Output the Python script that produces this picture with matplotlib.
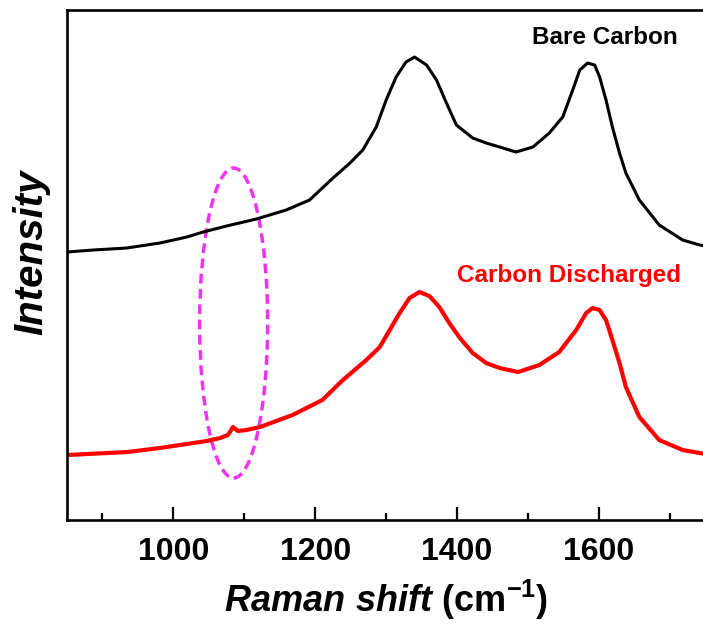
import matplotlib
matplotlib.use('Agg')
import matplotlib.pyplot as plt
from matplotlib.patches import Ellipse

plt.rcParams['font.family'] = 'Liberation Sans'
plt.rcParams['font.weight'] = 'bold'
plt.rcParams['mathtext.fontset'] = 'custom'
plt.rcParams['mathtext.rm'] = 'Liberation Sans:bold'
plt.rcParams['mathtext.it'] = 'Liberation Sans:bold:italic'
plt.rcParams['mathtext.bf'] = 'Liberation Sans:bold'

# Raman spectra (arbitrary intensity units)
bare_shift = [850, 887, 934, 981, 1019, 1042, 1075, 1117, 1159, 1192, 1225, 1249,
              1267, 1286, 1300, 1314, 1328, 1340, 1357, 1371, 1385, 1399, 1422,
              1441, 1460, 1483, 1507, 1530, 1549, 1563, 1573, 1584, 1594, 1601,
              1610, 1619, 1629, 1638, 1657, 1685, 1718, 1742, 1750]
bare_int = [268, 270, 272, 277, 283, 288, 294, 301, 310, 320, 342, 357,
            370, 393, 420, 443, 458, 463, 455, 440, 417, 395, 382,
            377, 373, 368, 373, 387, 403, 430, 450, 457, 455, 443,
            420, 393, 367, 347, 320, 295, 280, 275, 274]

dis_shift = [850, 935, 981, 1047, 1066, 1077, 1084, 1091, 1103, 1122, 1168, 1210,
             1239, 1272, 1291, 1305, 1319, 1333, 1347, 1361, 1375, 1389, 1404,
             1422, 1441, 1460, 1486, 1516, 1544, 1568, 1582, 1591, 1601, 1610,
             1619, 1629, 1638, 1657, 1685, 1718, 1742, 1750]
dis_int = [65, 68, 72, 79, 82, 85, 93, 89, 90, 93, 105, 120,
           140, 160, 173, 190, 207, 222, 228, 224, 213, 197, 182,
           167, 157, 152, 148, 155, 168, 190, 207, 212, 210, 200,
           180, 157, 133, 103, 80, 70, 67, 66]

xticks = [1000, 1200, 1400, 1600]

fig = plt.figure(figsize=(7.03, 6.26), dpi=100)
ax = fig.add_axes([0.0953, 0.1693, 0.908, 0.8147])

ax.plot(bare_shift, bare_int, color='black', lw=2.2)
ax.plot(dis_shift, dis_int, color='red', lw=3.0)

# highlight around the small 1085 band
ax.add_patch(Ellipse((1085, 197), 96, 310, fill=False, edgecolor='#ee33ee',
                     lw=2.5, linestyle=(0, (2.8, 1.6))))

ax.text(1608, 483, 'Bare Carbon', color='black', fontsize=17.5,
        fontweight='bold', ha='center', va='center')
ax.text(1558, 245, 'Carbon Discharged', color='red', fontsize=17.5,
        fontweight='bold', ha='center', va='center')

ax.set_xlim(850, 1750)
ax.set_ylim(0, 510)
ax.set_xticks(xticks)
ax.set_xticks([900, 1100, 1300, 1500, 1700], minor=True)
ax.set_yticks([])
ax.tick_params(axis='x', which='major', direction='in', length=9.5, width=1.6,
               labelsize=23, pad=12)
ax.tick_params(axis='x', which='minor', direction='in', length=5, width=1.6)
for lab in ax.get_xticklabels():
    lab.set_fontweight('bold')
for sp in ax.spines.values():
    sp.set_linewidth(1.9)

ax.set_xlabel(r'$\mathit{Raman\ shift}$ (cm$^{\mathrm{-1}}$)', fontsize=26,
              fontweight='bold', labelpad=8)
ax.set_ylabel('Intensity', fontsize=29, fontweight='bold', style='italic')
ax.yaxis.set_label_coords(-0.026, 0.525)

plt.savefig('out.png', dpi=100)
